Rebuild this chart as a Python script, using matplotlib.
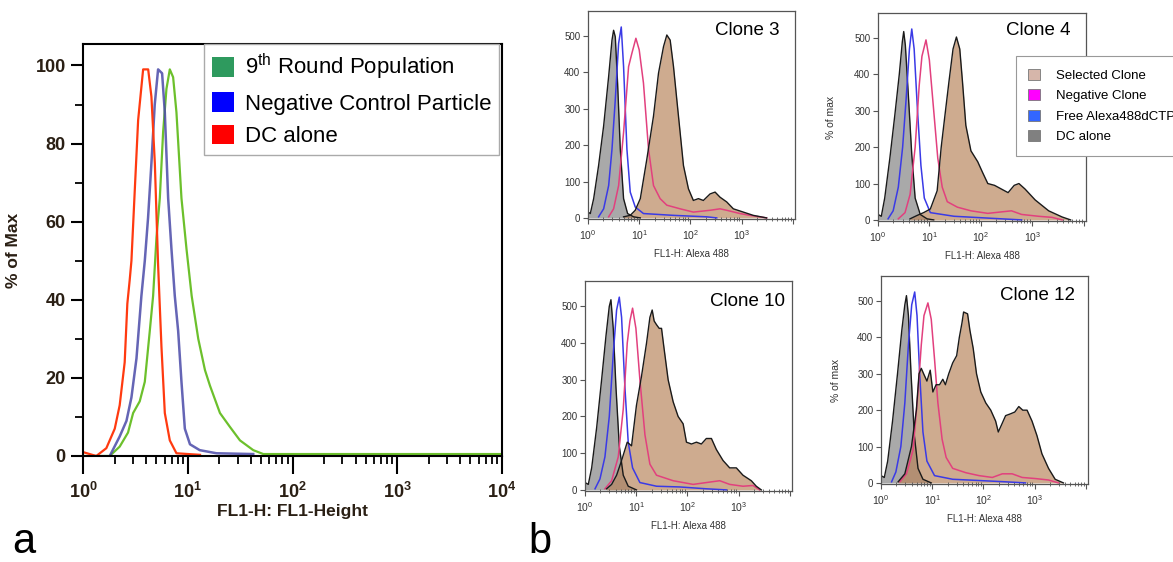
import matplotlib.pyplot as plt
from matplotlib.patches import Patch
from matplotlib.ticker import FixedLocator, MultipleLocator, NullFormatter

plt.rcParams['font.family'] = ['Liberation Sans', 'DejaVu Sans']
plt.rcParams['mathtext.fontset'] = 'custom'
plt.rcParams['mathtext.rm'] = 'Liberation Sans'
plt.rcParams['mathtext.bf'] = 'Liberation Sans:bold'
plt.rcParams['mathtext.it'] = 'Liberation Sans:italic'

# ---- panel a: % of max vs FL1-Height ----
a_dc_x = [1.0, 1.34, 1.67, 2.01, 2.24, 2.50, 2.65, 2.79, 2.90, 3.12, 3.36, 3.75,
          4.19, 4.50, 4.85, 5.21, 5.61, 6.04, 6.74, 7.80, 13.1]
a_dc_y = [1, 0, 2, 7, 13, 24, 39, 45, 50, 68, 86, 99, 99, 92, 75, 49, 28, 11, 4, 0.7, 0.3]

a_neg_x = [1.80, 2.24, 2.60, 2.90, 3.24, 3.61, 3.89, 4.18, 4.50, 4.84, 5.21, 5.69,
           6.04, 6.50, 6.99, 7.52, 8.10, 8.71, 9.38, 10.5, 13.0, 18.8, 42.2]
a_neg_y = [0, 5, 9, 15, 25, 41, 50, 61, 75, 90, 99, 98, 88, 66, 53, 41, 32, 19, 7,
           3, 1.5, 0.7, 0.5]

a_r9_x = [1.0, 1.80, 2.24, 2.69, 3.01, 3.48, 3.89, 4.34, 4.67, 5.03, 5.41, 5.82, 6.26,
          6.74, 7.25, 7.80, 8.71, 9.73, 10.9, 12.6, 14.6, 16.3, 20.3, 25.2, 31.5,
          42.2, 52.6, 10000]
a_r9_y = [0, 0, 2.4, 6, 11, 14, 19, 32, 41, 56, 66, 83, 94, 99, 97, 88, 66, 53, 41,
          30, 22, 18, 11, 7.5, 4, 1.5, 0.5, 0.5]

a_labels = ['9$^{\\mathrm{th}}$ Round Population', 'Negative Control Particle', 'DC alone']
a_colors = ['#2e9a5e', '#0000ff', '#ff0000']

# ---- panel b: four clones (counts vs FL1-H: Alexa 488) ----
c3_dc_x = [1.0, 1.11, 1.29, 1.61, 2.02, 2.53, 2.94, 3.16, 3.41, 3.78, 4.27, 4.95, 5.93, 7.76, 10.5]
c3_dc_y = [16, 12, 53, 144, 253, 389, 489, 516, 498, 371, 189, 53, 12, 3, 0]
c3_free_x = [1.61, 2.02, 2.53, 2.94, 3.41, 3.96, 4.46, 4.95, 5.75, 6.68, 8.36, 12.1, 46.7, 208, 326]
c3_free_y = [3, 25, 89, 189, 325, 480, 525, 416, 189, 71, 30, 12, 7, 3, 0]
c3_neg_x = [2.53, 3.16, 3.96, 4.95, 6.20, 7.20, 8.61, 10.0, 12.1, 15.2, 19.0, 25.6, 34.6,
            62.9, 114, 242, 378, 510, 928, 1453, 3070]
c3_neg_y = [3, 25, 89, 235, 416, 453, 494, 462, 371, 189, 89, 53, 35, 25, 16, 21, 25,
            21, 12, 7, 0]
c3_sel_x = [4.95, 6.68, 8.36, 10.5, 14.1, 19.0, 23.8, 29.8, 34.6, 40.2, 46.7, 54.2, 62.9,
            73.1, 91.4, 114, 143, 179, 242, 303, 378, 510, 688, 1077, 1687, 3070]
c3_sel_y = [3, 7, 21, 53, 162, 280, 398, 471, 503, 489, 416, 325, 235, 144, 80, 48, 53,
            48, 66, 71, 57, 44, 25, 16, 7, 0]

c4_dc_x = [1.0, 1.16, 1.35, 1.70, 2.13, 2.59, 2.97, 3.16, 3.40, 3.90, 4.53, 5.27, 6.62, 8.96, 12.1]
c4_dc_y = [15, 10, 60, 170, 290, 400, 490, 518, 480, 340, 180, 60, 15, 3, 0]
c4_free_x = [1.57, 1.97, 2.48, 3.01, 3.51, 4.08, 4.53, 5.04, 5.86, 6.82, 7.94, 10.4, 30.0, 136, 337, 618]
c4_free_y = [3, 25, 90, 200, 330, 470, 525, 470, 300, 150, 60, 20, 10, 5, 2, 0]
c4_neg_x = [2.48, 3.35, 4.20, 5.27, 6.32, 7.14, 8.56, 9.95, 12.1, 14.5, 17.7, 22.2, 34.9,
            63.9, 136, 249, 392, 618, 1315, 2405, 3787]
c4_neg_y = [3, 20, 70, 200, 370, 450, 495, 440, 300, 170, 90, 50, 35, 25, 18, 22, 25,
            15, 10, 7, 0]
c4_sel_x = [4.20, 5.69, 7.69, 10.4, 14.1, 16.9, 19.7, 23.9, 28.7, 33.4, 38.8, 43.8, 50.9,
            63.9, 86.6, 108, 136, 184, 249, 337, 443, 547, 718, 1130, 2070, 3787, 5530]
c4_sel_y = [3, 12, 20, 30, 80, 200, 280, 380, 470, 503, 470, 380, 260, 190, 160, 130, 100,
            95, 85, 75, 95, 100, 85, 55, 25, 8, 0]

c10_dc_x = [1.0, 1.16, 1.35, 1.69, 2.11, 2.57, 2.98, 3.21, 3.56, 4.02, 4.67, 5.58, 6.98, 10.1]
c10_dc_y = [20, 15, 60, 170, 300, 420, 500, 518, 440, 280, 120, 40, 10, 0]
c10_free_x = [1.57, 1.96, 2.45, 2.98, 3.56, 4.14, 4.67, 5.18, 6.01, 6.98, 8.49, 11.8, 24.9, 70.9, 234, 575]
c10_free_y = [3, 30, 90, 200, 370, 490, 525, 470, 280, 130, 60, 20, 10, 8, 3, 0]
c10_neg_x = [2.45, 3.31, 4.46, 5.58, 6.68, 7.53, 8.49, 9.86, 11.8, 14.8, 18.5, 24.9, 52.6,
             129, 234, 427, 668, 1214, 1901, 2566]
c10_neg_y = [3, 25, 90, 220, 400, 460, 495, 440, 300, 150, 70, 40, 25, 15, 20, 25, 15,
             10, 12, 0]
c10_sel_x = [2.64, 3.31, 4.14, 5.18, 6.68, 8.11, 10.1, 12.7, 15.9, 18.5, 20.5, 22.4, 24.9,
             28.1, 31.2, 34.6, 42.0, 52.6, 65.8, 82.4, 95.7, 120, 150, 187, 234, 294, 367,
             496, 668, 901, 1214, 1766, 2208, 2767]
c10_sel_y = [3, 15, 40, 80, 130, 120, 230, 310, 400, 470, 490, 460, 450, 440, 440, 390,
             300, 240, 200, 180, 130, 125, 130, 125, 140, 140, 110, 80, 60, 60, 40, 25, 10, 0]

c12_dc_x = [1.0, 1.16, 1.35, 1.68, 2.10, 2.55, 2.92, 3.14, 3.43, 3.86, 4.48, 5.28, 6.59, 9.57]
c12_dc_y = [20, 15, 60, 170, 300, 420, 490, 515, 460, 300, 130, 40, 10, 0]
c12_free_x = [1.61, 1.95, 2.44, 2.92, 3.43, 3.98, 4.55, 5.05, 5.69, 6.59, 7.88, 11.1, 25.1, 71.1, 271, 660]
c12_free_y = [3, 30, 100, 220, 380, 490, 525, 460, 300, 140, 60, 20, 10, 7, 3, 0]
c12_neg_x = [2.33, 3.14, 4.22, 5.28, 6.12, 6.90, 8.24, 9.57, 11.1, 12.9, 15.6, 18.7, 25.1,
             45.5, 82.4, 149, 233, 364, 569, 1030, 1866, 2916]
c12_neg_y = [3, 25, 90, 250, 380, 460, 495, 450, 340, 220, 120, 70, 40, 28, 20, 15, 25,
             25, 15, 12, 8, 0]
c12_sel_x = [2.16, 2.92, 3.93, 4.90, 5.52, 6.12, 6.80, 7.88, 9.14, 10.3, 11.9, 13.9, 16.1,
             18.1, 21.0, 25.1, 30.0, 33.8, 38.1, 41.0, 49.0, 54.4, 63.1, 73.3, 88.8, 111,
             139, 173, 195, 226, 271, 338, 410, 490, 586, 711, 888, 1109, 1387, 1866, 2512, 3640]
c12_sel_y = [3, 25, 100, 200, 300, 315, 300, 280, 310, 250, 270, 270, 285, 270, 300, 330,
             350, 400, 440, 470, 465, 420, 370, 300, 250, 220, 200, 170, 140, 160, 185, 190,
             195, 210, 200, 200, 170, 130, 80, 40, 10, 0]

b_labels = ['Selected Clone', 'Negative Clone', 'Free Alexa488dCTP', 'DC alone']
b_patch_colors = ['#d6b6aa', '#ff00ff', '#3366ff', '#808080']

W, H = 1173, 562
fig = plt.figure(figsize=(W / 100, H / 100), dpi=100)


def rect(left, top, right, bottom):
    return [left / W, 1 - bottom / H, (right - left) / W, (bottom - top) / H]


# ---------------- panel a ----------------
txt = '#2a1f14'
ax = fig.add_axes(rect(83, 44, 502, 456))
ax.plot(a_r9_x, a_r9_y, color='#6cc02c', lw=1.6)
ax.plot(a_neg_x, a_neg_y, color='#4a4aa8', lw=1.8, alpha=0.85)
ax.plot(a_dc_x, a_dc_y, color='#ff3a10', lw=1.6)
ax.set_xscale('log')
ax.set_xlim(1, 1e4)
ax.set_ylim(0, 105.5)
ax.yaxis.set_major_locator(FixedLocator([0, 20, 40, 60, 80, 100]))
ax.yaxis.set_minor_locator(MultipleLocator(10))
ax.xaxis.set_major_locator(FixedLocator([1, 10, 100, 1000, 10000]))
ax.set_xticklabels([r'$\mathbf{10^{%d}}$' % i for i in range(5)])
ax.set_yticklabels(['0', '20', '40', '60', '80', '100'])
for lab in ax.get_yticklabels():
    lab.set_fontweight('bold')
ax.tick_params(axis='both', which='major', labelsize=13, colors='black', labelcolor=txt,
               length=9, width=1.5, direction='out')
ax.tick_params(axis='x', which='major', length=13, pad=6)
ax.tick_params(axis='both', which='minor', length=6, width=1.3, direction='out')
for s in ax.spines.values():
    s.set_linewidth(1.5)
ax.set_xlabel('FL1-H: FL1-Height', fontsize=12.5, fontweight='bold', color=txt, labelpad=1)
ax.set_ylabel('% of Max', fontsize=12.5, fontweight='bold', color=txt, labelpad=10)
handles = [Patch(facecolor=c, edgecolor='none') for c in a_colors]
leg = ax.legend(handles, a_labels, loc='upper right', bbox_to_anchor=(0.994, 1.0),
                borderaxespad=0, fontsize=16, handlelength=1.0, handleheight=1.0,
                handletextpad=0.5, labelspacing=0.45, borderpad=0.35,
                fancybox=False, framealpha=1, edgecolor='#aaaaaa')
leg.get_frame().set_linewidth(1.0)

fig.text(12 / W, 0.0, 'a', fontsize=30, ha='left', va='bottom')
fig.text(528 / W, 0.0, 'b', fontsize=30, ha='left', va='bottom')


# ---------------- panel b ----------------
def draw_clone(box, dc, free, neg, sel, title, tpos, ylabel_x=None):
    a = fig.add_axes(rect(*box))
    a.fill_between(dc[0], dc[1], 0, color='#a9a9a9', lw=0)
    a.plot(dc[0], dc[1], color='#1a1a1a', lw=1.0)
    a.plot(free[0], free[1], color='#3a3ae6', lw=1.1)
    a.fill_between(sel[0], sel[1], 0, color='#b8845a', alpha=0.68, lw=0)
    a.plot(neg[0], neg[1], color='#e2407e', lw=1.1)
    a.plot(sel[0], sel[1], color='#1a1a1a', lw=1.0)
    a.set_xscale('log')
    a.set_xlim(1, 1.1e4)
    a.set_ylim(-3, 569)
    a.yaxis.set_major_locator(FixedLocator([0, 100, 200, 300, 400, 500]))
    a.xaxis.set_major_locator(FixedLocator([1, 10, 100, 1000, 10000]))
    a.set_xticklabels([r'$10^{%d}$' % i for i in range(4)] + [''])
    minors = [m * 10 ** d for d in range(4) for m in range(2, 10)]
    a.xaxis.set_minor_locator(FixedLocator(minors))
    a.xaxis.set_minor_formatter(NullFormatter())
    a.tick_params(axis='both', which='major', labelsize=7, colors='#555555',
                  labelcolor='#333333', length=3.5, width=0.8, pad=2)
    a.tick_params(axis='x', which='major', labelsize=7.5, pad=3)
    a.tick_params(axis='x', which='minor', length=2.5, width=0.6, colors='#555555',
                  direction='inout')
    for s in a.spines.values():
        s.set_linewidth(0.9)
        s.set_color('#555555')
    a.set_xlabel('FL1-H: Alexa 488', fontsize=7, color='#333333', labelpad=5)
    a.text(tpos[0], tpos[1], title, transform=a.transAxes, fontsize=13.5,
           ha='right', va='center')
    if ylabel_x is not None:
        a.text(ylabel_x, 0.5, '% of max', transform=a.transAxes, fontsize=7.5,
               rotation=90, ha='center', va='center', color='#333333')
    return a


draw_clone((588, 11, 795, 219), (c3_dc_x, c3_dc_y), (c3_free_x, c3_free_y),
           (c3_neg_x, c3_neg_y), (c3_sel_x, c3_sel_y), 'Clone 3', (0.926, 0.905))
ax4 = draw_clone((878, 13, 1086, 221), (c4_dc_x, c4_dc_y), (c4_free_x, c4_free_y),
                 (c4_neg_x, c4_neg_y), (c4_sel_x, c4_sel_y), 'Clone 4', (0.924, 0.915),
                 ylabel_x=-0.225)
draw_clone((585, 281, 792, 491), (c10_dc_x, c10_dc_y), (c10_free_x, c10_free_y),
           (c10_neg_x, c10_neg_y), (c10_sel_x, c10_sel_y), 'Clone 10', (0.965, 0.9))
draw_clone((881, 276, 1088, 484), (c12_dc_x, c12_dc_y), (c12_free_x, c12_free_y),
           (c12_neg_x, c12_neg_y), (c12_sel_x, c12_sel_y), 'Clone 12', (0.936, 0.905),
           ylabel_x=-0.217)

bh = [Patch(facecolor=c, edgecolor='#777777', lw=0.6) for c in b_patch_colors]
leg4 = ax4.legend(bh, b_labels, loc='upper left', bbox_to_anchor=(0.662, 0.792),
                  borderaxespad=0, fontsize=9.5, handlelength=0.9, handleheight=0.9,
                  handletextpad=1.2, labelspacing=0.56, borderpad=0.95,
                  fancybox=False, framealpha=1, edgecolor='#999999')
leg4.get_frame().set_linewidth(0.8)
leg4.set_clip_on(False)

fig.savefig('out.png', dpi=100)
